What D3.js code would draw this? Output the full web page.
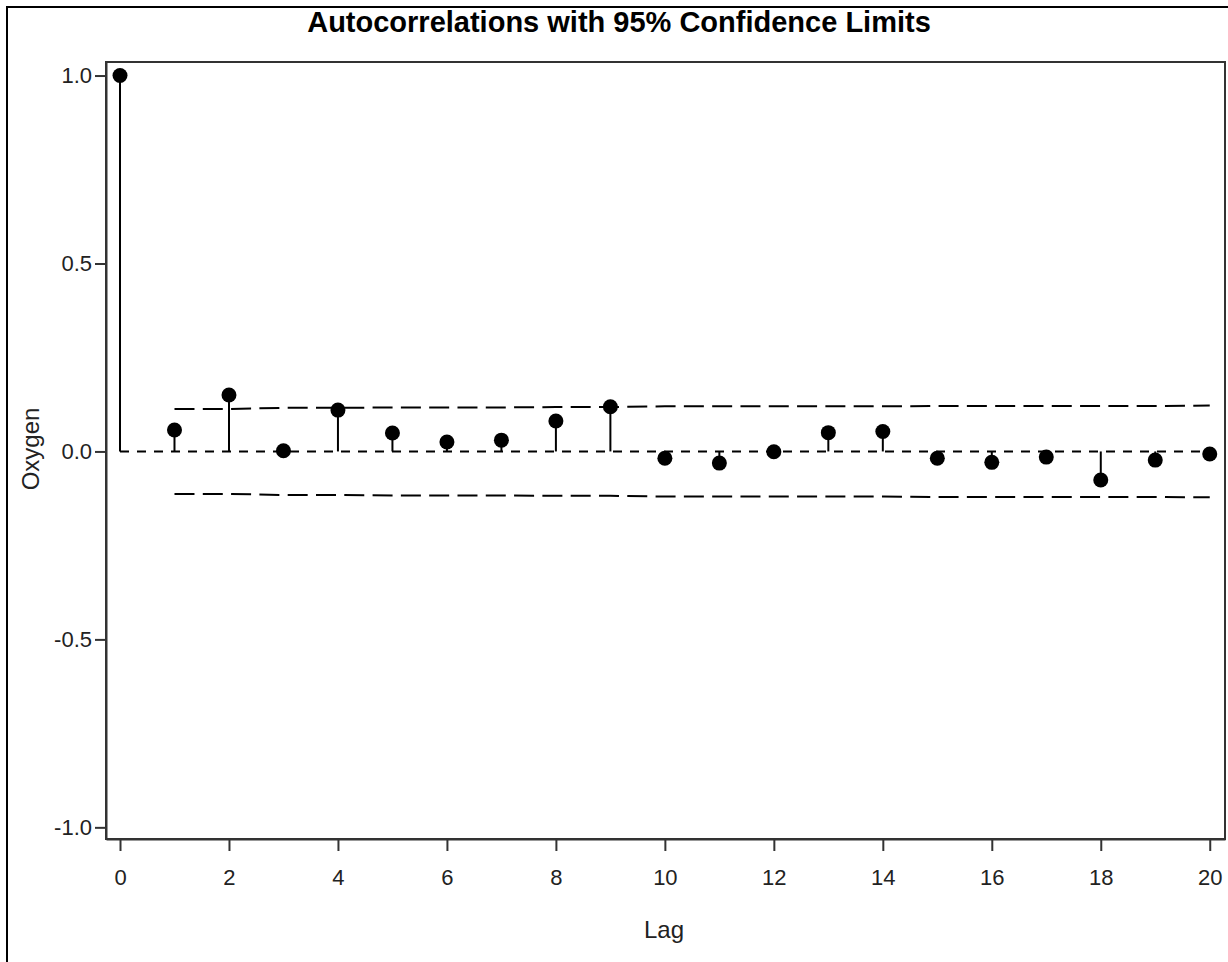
<!DOCTYPE html>
<html>
<head>
<meta charset="utf-8">
<script src="https://cdn.jsdelivr.net/npm/d3@7"></script>
<style>
  html, body { margin: 0; padding: 0; background: #fff; }
  svg { display: block; }
  text { font-family: "Liberation Sans", Arial, sans-serif; }
</style>
</head>
<body>
<svg id="chart" width="1228" height="962"></svg>
<script>
// Autocorrelation function of Oxygen, lags 0..20
const lags = d3.range(0, 21);
const acf = [1.000, 0.057, 0.150, 0.002, 0.110, 0.049, 0.025, 0.030, 0.081, 0.119,
             -0.018, -0.031, -0.001, 0.050, 0.053, -0.018, -0.029, -0.015, -0.076, -0.023, -0.007];
// Two-standard-error limits, lags 1..20
const limitLags = d3.range(1, 21);
const upperLimit = [0.113, 0.113, 0.116, 0.116, 0.117, 0.117, 0.117, 0.118, 0.118, 0.120,
                    0.120, 0.120, 0.120, 0.120, 0.121, 0.121, 0.121, 0.121, 0.121, 0.122];
const lowerLimit = [-0.113, -0.113, -0.116, -0.116, -0.117, -0.117, -0.117, -0.118, -0.118, -0.120,
                    -0.120, -0.120, -0.120, -0.120, -0.121, -0.121, -0.121, -0.121, -0.121, -0.122];
const xTicks = d3.range(0, 21, 2);
const yTicks = [-1.0, -0.5, 0.0, 0.5, 1.0];

const svg = d3.select("#chart");
const plot = { left: 106, top: 62, right: 1225, bottom: 839 };

const x = d3.scaleLinear().domain([-0.257, 20.28]).range([plot.left, plot.right]);
const y = d3.scaleLinear().domain([-1.031, 1.036]).range([plot.bottom, plot.top]);

// outer border
svg.append("path")
  .attr("d", `M7,962 V7 H1228`)
  .attr("fill", "none").attr("stroke", "#000").attr("stroke-width", 2);

// title
svg.append("text")
  .attr("x", 619).attr("y", 32)
  .attr("text-anchor", "middle")
  .attr("font-weight", "bold").attr("font-size", 29)
  .attr("fill", "#000")
  .text("Autocorrelations with 95% Confidence Limits");

// plot frame
svg.append("rect")
  .attr("x", plot.left).attr("y", plot.top)
  .attr("width", plot.right - plot.left).attr("height", plot.bottom - plot.top)
  .attr("fill", "none").attr("stroke", "#333").attr("stroke-width", 2);

// axes
const xAxis = svg.append("g")
  .attr("transform", `translate(0,${plot.bottom})`)
  .call(d3.axisBottom(x).tickValues(xTicks).tickFormat(d => String(d))
    .tickSizeInner(12).tickSizeOuter(0).tickPadding(18));
const yAxis = svg.append("g")
  .attr("transform", `translate(${plot.left},0)`)
  .call(d3.axisLeft(y).tickValues(yTicks).tickFormat(d => d.toFixed(1))
    .tickSizeInner(11).tickSizeOuter(0).tickPadding(3));
[xAxis, yAxis].forEach(g => {
  g.select(".domain").attr("stroke", "#333").attr("stroke-width", 2);
  g.selectAll(".tick line").attr("stroke", "#333").attr("stroke-width", 2);
  g.selectAll(".tick text").attr("fill", "#222").attr("font-size", 22)
    .style("font-family", "'Liberation Sans', Arial, sans-serif");
});

// axis labels
svg.append("text")
  .attr("x", 664).attr("y", 938)
  .attr("text-anchor", "middle").attr("font-size", 24).attr("fill", "#222")
  .text("Lag");
svg.append("text")
  .attr("transform", `translate(39,449) rotate(-90)`)
  .attr("text-anchor", "middle").attr("font-size", 24).attr("fill", "#222")
  .text("Oxygen");

// confidence limits
const limitLine = d3.line().x((d, i) => x(limitLags[i])).y(d => y(d));
[upperLimit, lowerLimit].forEach(arr => {
  svg.append("path")
    .datum(arr)
    .attr("d", limitLine)
    .attr("fill", "none").attr("stroke", "#000").attr("stroke-width", 2)
    .attr("stroke-dasharray", "20,8.3");
});

// zero reference line
svg.append("line")
  .attr("x1", x(lags[0])).attr("x2", x(lags[lags.length - 1]))
  .attr("y1", y(0)).attr("y2", y(0))
  .attr("stroke", "#000").attr("stroke-width", 2)
  .attr("stroke-dasharray", "9,8");

// needles
svg.append("g").selectAll("line")
  .data(acf)
  .join("line")
  .attr("x1", (d, i) => x(lags[i])).attr("x2", (d, i) => x(lags[i]))
  .attr("y1", y(0)).attr("y2", d => y(d))
  .attr("stroke", "#000").attr("stroke-width", 2);

// points
svg.append("g").selectAll("circle")
  .data(acf)
  .join("circle")
  .attr("cx", (d, i) => x(lags[i]))
  .attr("cy", d => y(d))
  .attr("r", 7.5)
  .attr("fill", "#000");
</script>
</body>
</html>
